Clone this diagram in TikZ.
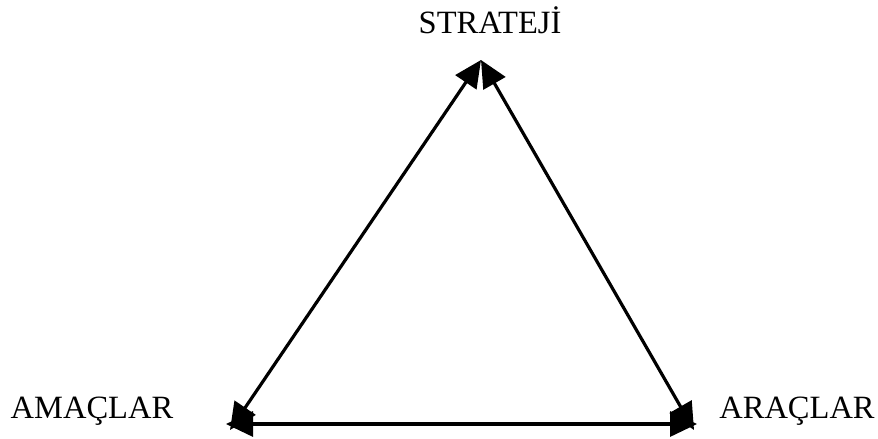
\documentclass[tikz,border=0pt]{standalone}
\usepackage{fontspec}
\setmainfont{Liberation Serif}
\usetikzlibrary{arrows.meta}
\begin{document}
\begin{tikzpicture}[x=1pt,y=-1pt,
  lbl/.style={font=\fontsize{32.5}{37}\selectfont, inner sep=0pt, anchor=base},
  side/.style={line width=3.2pt, {Triangle[length=27pt,width=25pt]}-{Triangle[length=27pt,width=25pt]}}]
\useasboundingbox (0,0) rectangle (878,439);
\coordinate (top) at (481,60);
\coordinate (bl) at (230,430);
\coordinate (br) at (694,430);
\coordinate (bl2) at (226,424);
\coordinate (br2) at (697,424);
\node[lbl] (s) at (490,33) {STRATEJİ};
\node[lbl] (a) at (92,418) {AMAÇLAR};
\node[lbl] (r) at (797,418) {ARAÇLAR};
\draw[side] (top) -- (bl);
\draw[side] (top) -- (br);
\draw[side] (bl2) -- (br2);
\end{tikzpicture}
\end{document}
